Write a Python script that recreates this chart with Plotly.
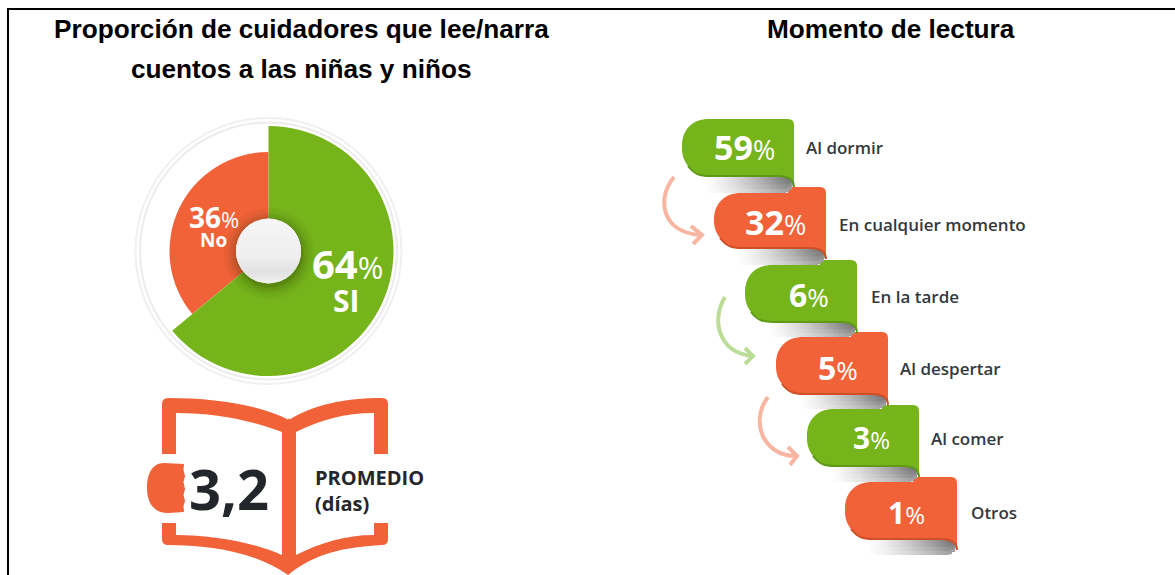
import math
import plotly.graph_objects as go

# ---- data ----
pie_labels = ["SI", "No"]
pie_values = [64, 36]
avg_days = "3,2"
avg_label = ["PROMEDIO", "(días)"]
title_left = ["Proporción de cuidadores que lee/narra", "cuentos a las niñas y niños"]
title_right = "Momento de lectura"
moment_labels = ["Al dormir", "En cualquier momento", "En la tarde", "Al despertar", "Al comer", "Otros"]
moment_values = [59, 32, 6, 5, 3, 1]

# ---- styling / layout constants (pixels) ----
W, H = 1175, 575
GREEN, ORANGE = "#76b41c", "#f16238"
GREEN_D, ORANGE_D = "#5f9a16", "#d04f28"
PIE_CX, PIE_CY = 268.5, 251
R_SI, R_NO = 125, 99
ribbon_left = [682, 714, 745, 776, 807, 845]
ribbon_top = [119, 187, 260, 332, 405, 477]
ribbon_bottom = [176, 248, 322, 394, 466, 539]
curl_end = [193, 265, 337, 409, 482, 555]
ribbon_w = 112
ribbon_color = [GREEN, ORANGE, GREEN, ORANGE, GREEN, ORANGE]
ribbon_dark = [GREEN_D, ORANGE_D, GREEN_D, ORANGE_D, GREEN_D, ORANGE_D]
num_x = [744, 775.5, 809, 838, 871, 906]
num_y = [147, 222, 294, 367, 437, 512]
num_size = [34, 34, 32, 32, 30, 30]
pct_size = [27, 27, 26, 26, 24, 24]
label_x = [806, 839, 871, 900, 931, 971]
label_y = [150, 227, 299, 371, 441, 515]

shapes = []


def add_path(d, fill=None, line=None, width=0, opacity=1.0):
    shapes.append(dict(type="path", path=d, xref="x", yref="y", opacity=opacity,
                       fillcolor=fill if fill else "rgba(0,0,0,0)",
                       line=dict(color=line if line else "rgba(0,0,0,0)", width=width)))


def circle(cx, cy, r, fill=None, line=None, width=0, opacity=1.0):
    shapes.append(dict(type="circle", xref="x", yref="y", x0=cx - r, x1=cx + r, y0=cy - r, y1=cy + r,
                       opacity=opacity, fillcolor=fill if fill else "rgba(0,0,0,0)",
                       line=dict(color=line if line else "rgba(0,0,0,0)", width=width)))


def rect(x0, y0, x1, y1, fill):
    shapes.append(dict(type="rect", xref="x", yref="y", x0=x0, x1=x1, y0=y0, y1=y1,
                       fillcolor=fill, line=dict(width=0)))


# frame
rect(7, 8, W, 10, "#000000")
rect(7, 8, 9, H, "#000000")

# rings around the pie
circle(PIE_CX, PIE_CY, 133, line="#f0f0f0", width=2)
circle(PIE_CX, PIE_CY, 128.5, line="#ececec", width=2)

# hub shadow
for r, op in [(46, .03), (43, .04), (40, .06), (37, .09), (34, .14)]:
    circle(PIE_CX + 1, PIE_CY + 2.5, r, fill="#1d2a00", opacity=op)
# hub with vertical shading
HUB_R = 32.5
circle(PIE_CX, PIE_CY, HUB_R, fill="#ececec")
n_bands = 22
for k in range(n_bands):
    y0 = -HUB_R + k * 2 * HUB_R / n_bands
    y1 = y0 + 2 * HUB_R / n_bands + 1
    w0 = math.sqrt(max(HUB_R ** 2 - y0 ** 2, 0))
    w1 = math.sqrt(max(HUB_R ** 2 - min(y1, HUB_R) ** 2, 0))
    t = (k + .5) / n_bands
    if t < .62:
        g = 246 - 12 * t
    elif t < .82:
        g = 238 - 60 * (t - .62)
    else:
        g = 226 + 90 * (t - .82)
    c = f"rgb({int(g)},{int(g)},{int(g)})"
    add_path(f"M{PIE_CX - w0:.1f},{PIE_CY + y0:.1f} L{PIE_CX + w0:.1f},{PIE_CY + y0:.1f} "
             f"L{PIE_CX + w1:.1f},{PIE_CY + min(y1, HUB_R):.1f} L{PIE_CX - w1:.1f},{PIE_CY + min(y1, HUB_R):.1f} Z", fill=c)

# book
BOOK = ORANGE
add_path("M162,454 L162,404 Q162,398 168,398 C215,398 260,405 289,420 L282,432 C250,420 215,413 176,413 L176,454 Z", fill=BOOK)
add_path("M388,454 L388,404 Q388,398 382,398 C345,398 312,405 289,420 L296,432 C320,420 345,413 374,413 L374,454 Z", fill=BOOK)
add_path("M282,430 L289,418 L296,430 L296,566 L288,575 L282,566 Z", fill=BOOK)
add_path("M162,523 L176,523 L176,535 C215,535 255,543 282,555 L288,575 C255,552 210,545 168,545 Q162,545 162,539 Z", fill=BOOK)
add_path("M388,523 L374,523 L374,535 C345,535 320,543 296,555 L288,575 C315,553 345,547 382,545 Q388,545 388,539 Z", fill=BOOK)
add_path("M164,463 C152,463 147,474 147,488 C147,503 154,513 168,513 L184,512 L183.5,506 L185,501 L183.5,495 "
         "L185,489 L183.5,482 L185,476 L183.5,470 L184,464 Z", fill=BOOK)

# arrows
ARROWS = [
    ("#f8b6a2", "M674,177 C657,197 660,232 700,235", "M691,226 L702,235 L693,244"),
    ("#bcdd98", "M725,297 C711,320 718,352 752,356", "M745,348 L753,356 L745,364"),
    ("#f8b6a2", "M768,397 C750,420 762,456 796,456", "M788,447 L797,456 L790,465"),
]
for col, body, head in ARROWS:
    add_path(body, line=col, width=4)
    add_path(head, line=col, width=4)

# ribbons: last to first so each curl sits over the next ribbon and under its own
for i in range(len(moment_values) - 1, -1, -1):
    L, T, B, E = ribbon_left[i], ribbon_top[i], ribbon_bottom[i], curl_end[i]
    R = L + ribbon_w
    span = 90
    step = 3
    rows = 4
    for cx in range(R - span, R, step):
        t = (cx - (R - span)) / span
        base = 255 - 150 * t ** 1.25
        right_gap = max(0, cx + step - (R - 9))
        bot = E - (right_gap ** 2) / 12
        h = (bot - B) / rows
        for r in range(rows):
            s = r / rows
            g = min(255, base + (255 - base) * .45 * s ** 1.5)
            col = f"rgb({int(g)},{int(g)},{int(g)})"
            rect(cx, B + r * h, min(cx + step + 1, R), bot if r == rows - 1 else B + (r + 1) * h + 1, col)
    if i == 0:
        S, SX = T, L + 30
    else:
        S, SX = curl_end[i - 1], ribbon_left[i - 1] + ribbon_w - 6
    d = (f"M{L},{S + 27} C{L},{S + 10} {L + 11},{S} {L + 27},{S} L{SX},{S} L{SX},{T} L{R - 6},{T} "
         f"Q{R},{T} {R},{T + 6} L{R},{B + 11} C{R},{B + 4} {R - 5},{B} {R - 16},{B} L{L + 28},{B} "
         f"C{L + 11},{B} {L},{B - 13} {L},{B - 27} Z")
    add_path(d, fill=ribbon_color[i])
    add_path(f"M{L + 6},{B - 10} C{L + 12},{B - 2} {L + 18},{B} {L + 28},{B} L{R - 16},{B} C{R - 5},{B} {R},{B + 4} {R},{B + 11}",
             line=ribbon_dark[i], width=2)

ann = []


def text(x, y, s, size, color, family="Open Sans", anchor="center", weight=None):
    f = dict(family=family, size=size, color=color)
    if weight:
        f["weight"] = weight
    ann.append(dict(x=x, y=y, xref="x", yref="y", text=s, showarrow=False, xanchor=anchor, yanchor="middle",
                    font=f, align="center"))


TITLE_FONT = "Liberation Sans"
text(301.5, 29, f"<b>{title_left[0]}</b>", 26.2, "#000000", TITLE_FONT)
text(301.5, 69, f"<b>{title_left[1]}</b>", 26.2, "#000000", TITLE_FONT)
text(890.5, 29, f"<b>{title_right}</b>", 26.2, "#000000", TITLE_FONT)


def pct(v, small):
    return f'<b>{v}</b><span style="font-size:{small}px">%</span>'


# pie labels
text(214, 217, pct(pie_values[1], 22), 28, "#ffffff")
text(213, 240, f"<b>{pie_labels[1]}</b>", 19, "#ffffff")
text(347, 263, pct(pie_values[0], 31), 40, "#ffffff")
text(346, 300, f"<b>{pie_labels[0]}</b>", 30, "#ffffff")

# book texts
text(229, 488, f"<b>{avg_days}</b>", 56, "#23272b")
text(313, 477, f"<b>{avg_label[0]}</b>", 20, "#23272b", anchor="left")
text(313, 503, f"<b>{avg_label[1]}</b>", 20, "#23272b", anchor="left")

# ribbon numbers
for x, y, v, a, b in zip(num_x, num_y, moment_values, num_size, pct_size):
    text(x, y, pct(v, b), a, "#ffffff")

fig = go.Figure()
fig.add_trace(go.Scatter(x=label_x, y=label_y, mode="text", text=moment_labels, textposition="middle right",
                         textfont=dict(family="Open Sans", size=17, color="#33393f", weight=600),
                         hoverinfo="skip", showlegend=False))


def pie_domain(r):
    return dict(x=[(PIE_CX - r) / W, (PIE_CX + r) / W], y=[1 - (PIE_CY + r) / H, 1 - (PIE_CY - r) / H])


fig.add_trace(go.Pie(labels=pie_labels, values=pie_values, sort=False, direction="clockwise", rotation=0,
                     domain=pie_domain(R_NO), textinfo="none", hoverinfo="label+percent",
                     marker=dict(colors=["rgba(0,0,0,0)", ORANGE], line=dict(width=0)), showlegend=False))
fig.add_trace(go.Pie(labels=pie_labels, values=pie_values, sort=False, direction="clockwise", rotation=0,
                     domain=pie_domain(R_SI), textinfo="none", hoverinfo="label+percent",
                     marker=dict(colors=[GREEN, "rgba(0,0,0,0)"], line=dict(width=0)), showlegend=False))

fig.update_layout(width=W, height=H, margin=dict(l=0, r=0, t=0, b=0), paper_bgcolor="#ffffff",
                  plot_bgcolor="#ffffff", showlegend=False, shapes=shapes, annotations=ann,
                  xaxis=dict(range=[0, W], visible=False, fixedrange=True),
                  yaxis=dict(range=[H, 0], visible=False, fixedrange=True))
fig.write_html("out.html", config=dict(displayModeBar=False),
               post_script="document.body.style.margin='0';document.documentElement.style.overflow='hidden';")
